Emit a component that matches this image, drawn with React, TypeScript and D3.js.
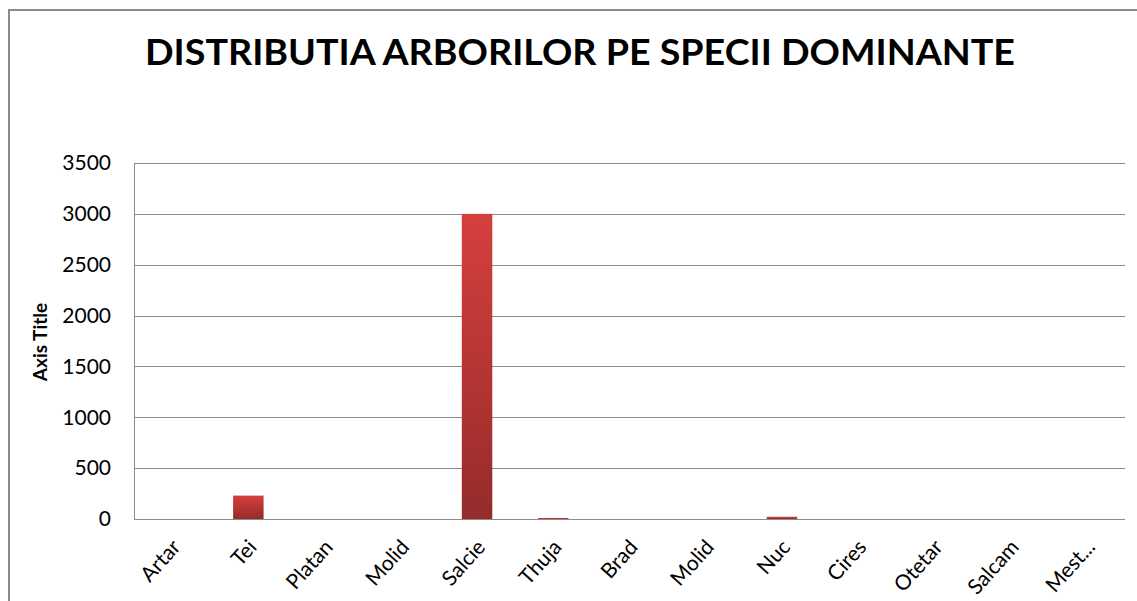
import { useEffect, useRef } from 'react';
import * as d3 from 'd3';

const categories = ['Artar', 'Tei', 'Platan', 'Molid', 'Salcie', 'Thuja', 'Brad', 'Molid', 'Nuc', 'Cires', 'Otetar', 'Salcam', 'Mest...'];
const values = [0, 230, 0, 0, 3000, 10, 0, 0, 22, 0, 0, 0, 0];
const yTicks = [0, 500, 1000, 1500, 2000, 2500, 3000, 3500];

const W = 1137;
const H = 601;

export default function App() {
    const ref = useRef<SVGSVGElement>(null);

    useEffect(() => {
        if (!ref.current) return;
        document.body.style.margin = '0';
        const svg = d3.select(ref.current);
        svg.selectAll('*').remove();

        const plot = { left: 134, right: 1125, top: 163, bottom: 519 };
        const font = 'Lato, Carlito, "Open Sans", sans-serif';

        const x = d3.scaleBand<number>()
            .domain(categories.map((_, i) => i))
            .range([plot.left, plot.right])
            .paddingInner(0.6)
            .paddingOuter(0.3);

        const y = d3.scaleLinear().domain([0, 3500]).range([plot.bottom, plot.top]);

        // gradient for bars
        const defs = svg.append('defs');
        const grad = defs.append('linearGradient')
            .attr('id', 'barGrad')
            .attr('x1', 0).attr('y1', 0).attr('x2', 0).attr('y2', 1);
        grad.append('stop').attr('offset', '0%').attr('stop-color', '#d5403d');
        grad.append('stop').attr('offset', '100%').attr('stop-color', '#952b2b');

        svg.append('rect').attr('width', W).attr('height', H).attr('fill', '#fff');

        // chart border (cropped at right/bottom)
        svg.append('path')
            .attr('d', `M9,${H + 2} V10 H${W + 2}`)
            .attr('fill', 'none')
            .attr('stroke', '#8a8a8a')
            .attr('stroke-width', 2);

        // title
        svg.append('text')
            .attr('x', 580)
            .attr('y', 65)
            .attr('text-anchor', 'middle')
            .attr('font-family', font)
            .attr('font-weight', 700)
            .attr('font-size', 37)
            .attr('textLength', 870)
            .attr('lengthAdjust', 'spacingAndGlyphs')
            .attr('fill', '#000')
            .text('DISTRIBUTIA ARBORILOR PE SPECII DOMINANTE');

        // gridlines
        svg.append('g')
            .selectAll('line')
            .data(yTicks)
            .join('line')
            .attr('x1', plot.left)
            .attr('x2', plot.right)
            .attr('y1', d => Math.round(y(d)) + 0.5)
            .attr('y2', d => Math.round(y(d)) + 0.5)
            .attr('stroke', '#8c8c8c')
            .attr('stroke-width', 1);

        // left axis line
        svg.append('line')
            .attr('x1', plot.left + 0.5).attr('x2', plot.left + 0.5)
            .attr('y1', plot.top).attr('y2', plot.bottom)
            .attr('stroke', '#8c8c8c');

        // y tick labels
        svg.append('g')
            .selectAll('text')
            .data(yTicks)
            .join('text')
            .attr('x', 111)
            .attr('y', d => y(d))
            .attr('dy', '0.35em')
            .attr('text-anchor', 'end')
            .attr('font-family', font)
            .attr('font-size', 21)
            .attr('fill', '#000')
            .text(d => String(d));

        // axis title
        svg.append('text')
            .attr('transform', `translate(47,342) rotate(-90)`)
            .attr('text-anchor', 'middle')
            .attr('font-family', font)
            .attr('font-weight', 700)
            .attr('font-size', 19)
            .attr('fill', '#000')
            .text('Axis Title');

        // bars
        svg.append('g')
            .selectAll('rect')
            .data(values)
            .join('rect')
            .attr('x', (_, i) => x(i)!)
            .attr('width', x.bandwidth())
            .attr('y', d => y(d))
            .attr('height', d => plot.bottom - y(d))
            .attr('fill', 'url(#barGrad)');

        // category labels
        svg.append('g')
            .selectAll('text')
            .data(categories)
            .join('text')
            .attr('transform', (_, i) => `translate(${x(i)! + x.bandwidth() / 2 + 4},${plot.bottom + 24}) rotate(-48)`)
            .attr('text-anchor', 'end')
            .attr('dy', '0.35em')
            .attr('font-family', font)
            .attr('font-size', 21)
            .attr('fill', '#000')
            .text(d => d);
    }, []);

    return <svg ref={ref} width={W} height={H} style={{ display: 'block' }} />;
}
